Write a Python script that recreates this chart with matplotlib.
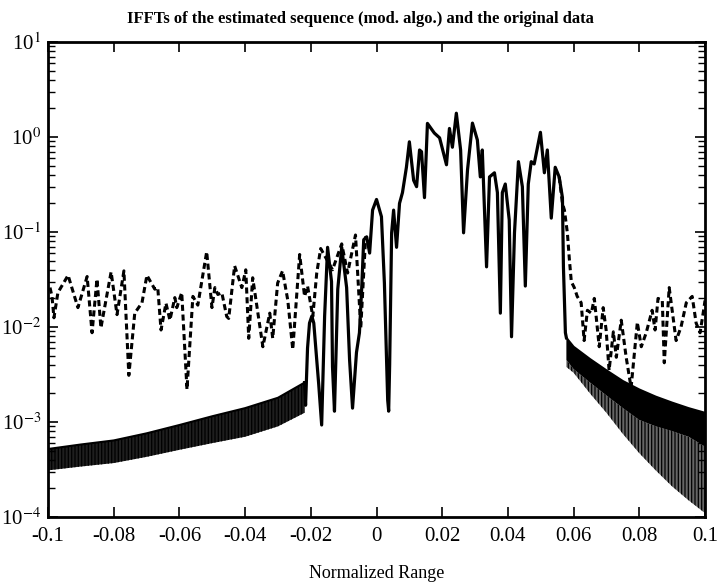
import numpy as np
import matplotlib
matplotlib.use("Agg")
import matplotlib.pyplot as plt
from matplotlib.ticker import LogLocator, NullFormatter

plt.rcParams['font.family'] = ['Liberation Serif', 'DejaVu Serif']
plt.rcParams['mathtext.fontset'] = 'stix'
plt.rcParams['hatch.linewidth'] = 0.9

# original data (dashed), left part
orig_left_x = [-0.0994, -0.0988, -0.0982, -0.0970, -0.0939, -0.0909, -0.0881, -0.0866, -0.0851,
               -0.0839, -0.0808, -0.0790, -0.0769, -0.0754, -0.0736, -0.0714, -0.0699, -0.0675,
               -0.0666, -0.0656, -0.0641, -0.0629, -0.0614, -0.0608, -0.0593, -0.0577, -0.0559,
               -0.0544, -0.0517, -0.0501, -0.0492, -0.0483, -0.0471, -0.0456, -0.0450, -0.0432,
               -0.0410, -0.0398, -0.0389, -0.0377, -0.0346, -0.0325, -0.0316, -0.0301, -0.0286,
               -0.0270, -0.0255, -0.0234, -0.0219, -0.0210, -0.0194, -0.0182, -0.0170, -0.0134,
               -0.0106, -0.0088, -0.0064, -0.0048, -0.0033]
orig_left_y = [0.026, 0.021, 0.0125, 0.023, 0.035, 0.016, 0.034, 0.0087, 0.032,
               0.0098, 0.038, 0.0135, 0.039, 0.0031, 0.014, 0.018, 0.035, 0.025,
               0.026, 0.0093, 0.0178, 0.0118, 0.0204, 0.016, 0.023, 0.0022, 0.021,
               0.017, 0.062, 0.016, 0.026, 0.022, 0.023, 0.0129, 0.0123, 0.044,
               0.026, 0.040, 0.0076, 0.033, 0.0062, 0.014, 0.0076, 0.029, 0.039,
               0.019, 0.0058, 0.058, 0.021, 0.027, 0.0129, 0.037, 0.067, 0.040,
               0.075, 0.037, 0.093, 0.0098, 0.09]

# original data (dashed), right part
orig_right_x = [0.0556, 0.0566, 0.0572, 0.0581, 0.0587, 0.0593, 0.0602, 0.0611, 0.0623, 0.0632,
                0.0642, 0.0654, 0.0663, 0.0678, 0.0690, 0.0699, 0.0708, 0.0721, 0.0730, 0.0745,
                0.0760, 0.0775, 0.0794, 0.0806, 0.0821, 0.0839, 0.0848, 0.0857, 0.0870, 0.0876,
                0.0891, 0.0912, 0.0927, 0.0943, 0.0961, 0.0973, 0.0985, 0.0997, 0.1]
orig_right_y = [0.38, 0.2, 0.17, 0.098, 0.052, 0.03, 0.026, 0.021, 0.018, 0.0072,
                0.015, 0.014, 0.020, 0.0062, 0.016, 0.0093, 0.0035, 0.0089, 0.0048, 0.0118,
                0.0048, 0.0023, 0.0112, 0.0062, 0.0087, 0.015, 0.0093, 0.020, 0.019, 0.0042,
                0.026, 0.0072, 0.010, 0.018, 0.021, 0.011, 0.0087, 0.016, 0.019]

# estimated sequence (solid), central part
est_x = [-0.0219, -0.0216, -0.0210, -0.0204, -0.0197, -0.0191, -0.0182, -0.0176, -0.0167, -0.0158,
         -0.0149, -0.0137, -0.0134, -0.0128, -0.0118, -0.0106, -0.0091, -0.0082, -0.0073, -0.0061,
         -0.0052, -0.0045, -0.0039, -0.0030, -0.0021, -0.0012, 0.0000, 0.0015, 0.0024, 0.0034,
         0.0037, 0.0040, 0.0046, 0.0052, 0.0061, 0.0070, 0.0079, 0.0091, 0.0100, 0.0113,
         0.0122, 0.0131, 0.0137, 0.0146, 0.0155, 0.0176, 0.0192, 0.0213, 0.0222, 0.0231,
         0.0243, 0.0256, 0.0265, 0.0277, 0.0292, 0.0307, 0.0316, 0.0322, 0.0335, 0.0344,
         0.0359, 0.0368, 0.0377, 0.0383, 0.0392, 0.0404, 0.0411, 0.0420, 0.0432, 0.0444,
         0.0453, 0.0462, 0.0471, 0.0480, 0.0499, 0.0511, 0.0520, 0.0532, 0.0544, 0.0556,
         0.0566, 0.0569, 0.0575, 0.0578]
est_y = [0.0026, 0.0015, 0.006, 0.011, 0.013, 0.011, 0.0045, 0.0025, 0.00093, 0.013,
         0.069, 0.03, 0.0038, 0.0013, 0.025, 0.069, 0.026, 0.0045, 0.0014, 0.0054,
         0.0087, 0.026, 0.083, 0.089, 0.060, 0.17, 0.22, 0.145, 0.029, 0.0017,
         0.0013, 0.004, 0.098, 0.17, 0.069, 0.20, 0.26, 0.48, 0.89, 0.35,
         0.30, 0.73, 0.70, 0.23, 1.39, 1.1, 0.98, 0.51, 1.23, 0.78,
         1.78, 0.73, 0.098, 0.45, 1.4, 0.93, 0.38, 0.73, 0.043, 0.38,
         0.42, 0.26, 0.014, 0.26, 0.32, 0.134, 0.0079, 0.098, 0.55, 0.30,
         0.027, 0.32, 0.55, 0.52, 1.12, 0.42, 0.73, 0.14, 0.48, 0.38,
         0.23, 0.043, 0.0087, 0.0077]

# estimated sequence, fast-oscillating sidelobe bands (envelopes)
band_left_x = [-0.1, -0.09, -0.08, -0.07, -0.06, -0.05, -0.04, -0.03, -0.0219]
band_left_hi = [5.2e-4, 5.8e-4, 6.4e-4, 7.6e-4, 9.3e-4, 1.15e-3, 1.4e-3, 1.8e-3, 2.6e-3]
band_left_lo = [3.1e-4, 3.4e-4, 3.7e-4, 4.3e-4, 5.1e-4, 6.0e-4, 7.0e-4, 9.0e-4, 1.25e-3]

band_right_x = [0.0578, 0.06, 0.065, 0.07, 0.075, 0.08, 0.085, 0.09, 0.095, 0.1]
band_right_hi = [7.7e-3, 6.2e-3, 4.6e-3, 3.5e-3, 2.7e-3, 2.2e-3, 1.85e-3, 1.6e-3, 1.4e-3, 1.25e-3]
band_right_mid = [4.5e-3, 3.6e-3, 2.6e-3, 1.9e-3, 1.4e-3, 1.05e-3, 9e-4, 8e-4, 7e-4, 5.5e-4]
band_right_lo = [3.8e-3, 3.3e-3, 2.0e-3, 1.25e-3, 7.5e-4, 4.7e-4, 3.1e-4, 2.1e-4, 1.5e-4, 1.1e-4]

xticks = [-0.1, -0.08, -0.06, -0.04, -0.02, 0, 0.02, 0.04, 0.06, 0.08, 0.1]
xticklabels = ['-0.1', '-0.08', '-0.06', '-0.04', '-0.02', '0', '0.02', '0.04', '0.06', '0.08', '0.1']
yticks = [1e-4, 1e-3, 1e-2, 1e-1, 1e0, 1e1]
yticklabels = ['10$^{-4}$', '10$^{-3}$', '10$^{-2}$', '10$^{-1}$', '10$^{0}$', '10$^{1}$']

fig = plt.figure(figsize=(7.18, 5.88), dpi=100)
ax = fig.add_axes([0.0669, 0.1207, 0.9150, 0.8079])

# dashed: original data
ax.plot(orig_left_x, orig_left_y, color='k', lw=2.2, ls=(0, (2.0, 1.2)))
ax.plot(orig_right_x, orig_right_y, color='k', lw=2.2, ls=(0, (2.0, 1.2)))

# sidelobe bands of the estimate
ax.fill_between(band_left_x, band_left_lo, band_left_hi, facecolor='0.12',
                edgecolor='k', hatch='|||||', linewidth=0)
ax.plot(band_left_x, band_left_hi, color='k', lw=1.5)
ax.fill_between(band_right_x, band_right_lo, band_right_mid, facecolor='0.4',
                edgecolor='k', hatch='|||||', linewidth=0)
ax.fill_between(band_right_x, band_right_mid, band_right_hi, facecolor='k', linewidth=0)
ax.plot(band_right_x, band_right_hi, color='k', lw=1.5)

# solid: estimated sequence
ax.plot(est_x, est_y, color='k', lw=2.3, solid_joinstyle='round')

ax.set_yscale('log')
ax.set_xlim(-0.1, 0.1)
ax.set_ylim(1e-4, 1e1)
ax.set_xticks(xticks)
ax.set_xticklabels(xticklabels)
ax.set_yticks(yticks)
ax.set_yticklabels(yticklabels)
ax.yaxis.set_minor_locator(LogLocator(base=10, subs=np.arange(2, 10)))
ax.yaxis.set_minor_formatter(NullFormatter())

ax.tick_params(which='both', direction='in', top=True, right=True, labelsize=15)
ax.tick_params(which='major', length=7, width=1.2)
ax.tick_params(which='minor', length=5, width=1.0)
ax.tick_params(axis='x', pad=7)
ax.tick_params(axis='y', pad=5)
for s in ax.spines.values():
    s.set_linewidth(2.0)

ax.set_title('IFFTs of the estimated sequence (mod. algo.) and the original data',
             fontsize=12, fontweight='bold', pad=14, x=0.475)
ax.set_xlabel('Normalized Range', fontsize=13, labelpad=14)

fig.savefig('out.png', dpi=100)
